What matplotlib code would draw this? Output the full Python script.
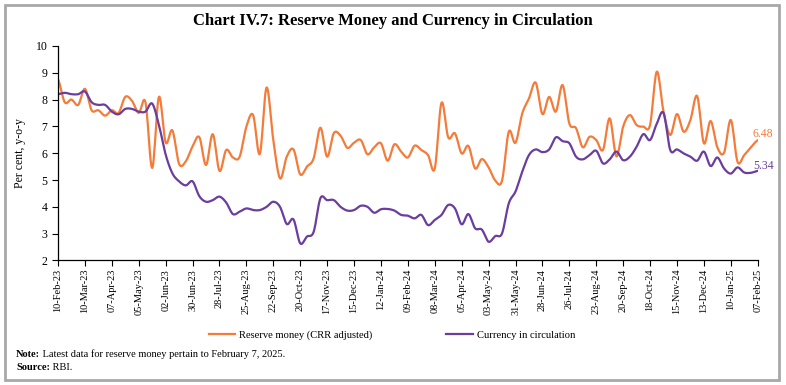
import numpy as np
import pandas as pd
import matplotlib.pyplot as plt
from matplotlib.patches import Rectangle

plt.rcParams['font.family'] = ['Liberation Serif', 'DejaVu Serif']

# weekly observations, 10-Feb-23 to 07-Feb-25
dates = pd.date_range('2023-02-10', periods=105, freq='7D')

reserve_money = [
    8.75, 7.90, 8.00, 7.80, 8.40, 7.60, 7.60, 7.40, 7.60, 7.50,
    8.10, 7.95, 7.50, 7.90, 5.45, 8.10, 6.40, 6.85, 5.60, 5.70,
    6.25, 6.60, 5.56, 6.71, 5.34, 6.12, 5.84, 5.87, 6.99, 7.42,
    5.97, 8.45, 6.49, 5.06, 5.87, 6.14, 5.21, 5.50, 5.81, 6.95,
    5.87, 6.75, 6.65, 6.20, 6.39, 6.49, 5.96, 6.22, 6.37, 5.72,
    6.33, 6.06, 5.84, 6.28, 6.12, 5.93, 5.43, 7.88, 6.59, 6.74,
    5.99, 6.27, 5.43, 5.78, 5.47, 4.98, 4.98, 6.80, 6.39, 7.48,
    8.04, 8.63, 7.46, 8.10, 7.55, 8.54, 7.11, 6.93, 6.22, 6.61,
    6.49, 6.12, 7.30, 5.88, 6.99, 7.42, 7.05, 6.99, 7.05, 9.04,
    7.55, 6.68, 7.46, 6.80, 7.24, 8.13, 6.37, 7.20, 6.22, 6.02,
    7.24, 5.68, 5.93, 6.22, 6.48,
]

currency = [
    8.20, 8.25, 8.20, 8.20, 8.30, 7.90, 7.80, 7.80, 7.55, 7.45,
    7.65, 7.65, 7.55, 7.55, 7.85, 7.05, 5.95, 5.25, 4.95, 4.80,
    4.95, 4.40, 4.19, 4.25, 4.38, 4.16, 3.73, 3.82, 3.94, 3.88,
    3.88, 4.00, 4.19, 4.00, 3.36, 3.53, 2.64, 2.89, 3.07, 4.32,
    4.25, 4.25, 4.00, 3.86, 3.88, 4.04, 4.00, 3.78, 3.91, 3.92,
    3.86, 3.70, 3.67, 3.57, 3.70, 3.32, 3.51, 3.70, 4.07, 3.94,
    3.35, 3.73, 3.20, 3.15, 2.70, 2.91, 3.01, 4.13, 4.57, 5.31,
    5.93, 6.14, 6.04, 6.14, 6.59, 6.45, 6.37, 5.87, 5.77, 5.93,
    6.09, 5.62, 5.77, 6.06, 5.74, 5.87, 6.24, 6.71, 6.49, 7.10,
    7.50, 6.12, 6.14, 5.99, 5.87, 5.72, 6.06, 5.52, 5.84, 5.43,
    5.24, 5.47, 5.28, 5.27, 5.34,
]

orange = '#F47B3A'
purple = '#6A3D9E'


def smooth(y, n=12):
    # Catmull-Rom curve through the points, like a smoothed line in a spreadsheet
    y = np.asarray(y, float)
    p = np.concatenate([[y[0]], y, [y[-1]]])
    xs, ys = [], []
    t = np.linspace(0, 1, n, endpoint=False)
    for i in range(len(y) - 1):
        p0, p1, p2, p3 = p[i], p[i + 1], p[i + 2], p[i + 3]
        seg = 0.5 * ((2 * p1) + (-p0 + p2) * t + (2 * p0 - 5 * p1 + 4 * p2 - p3) * t ** 2
                     + (-p0 + 3 * p1 - 3 * p2 + p3) * t ** 3)
        xs.append(i + t)
        ys.append(seg)
    xs.append([len(y) - 1])
    ys.append([y[-1]])
    return np.concatenate(xs), np.concatenate(ys)


fig = plt.figure(figsize=(7.86, 3.85), dpi=100)
ax = fig.add_axes([0.0738, 0.3234, 0.8902, 0.5574])

x1, y1 = smooth(reserve_money)
x2, y2 = smooth(currency)
ax.plot(x1, y1, color=orange, lw=1.6, label='Reserve money (CRR adjusted)')
ax.plot(x2, y2, color=purple, lw=1.6, label='Currency in circulation')

n = len(dates)
ax.text(n - 1.7, reserve_money[-1] + 0.24, f'{reserve_money[-1]:.2f}', color=orange,
        fontsize=8.5, va='center', ha='left', clip_on=False)
ax.text(n - 1.6, currency[-1] + 0.19, f'{currency[-1]:.2f}', color=purple,
        fontsize=8.5, va='center', ha='left', clip_on=False)

ax.set_xlim(0, n - 1)
ax.set_ylim(2, 10)
ax.set_yticks(range(2, 11))
ticks = list(range(0, n, 4))
ax.set_xticks(ticks)
ax.set_xticklabels([dates[i].strftime('%d-%b-%y') for i in ticks], rotation=90, fontsize=7.5)
ax.tick_params(axis='y', labelsize=8.5, length=4, width=0.8)
ax.tick_params(axis='x', length=4, width=0.8, pad=2)
for s in ['top', 'right']:
    ax.spines[s].set_visible(False)
for s in ['left', 'bottom']:
    ax.spines[s].set_linewidth(0.9)
ax.set_ylabel('Per cent, y-o-y', fontsize=8.5, labelpad=7)

fig.legend(loc='center', bbox_to_anchor=(0.4987, 0.13), ncol=2, frameon=False,
           fontsize=7.6, handlelength=2.5, columnspacing=7, handletextpad=0.4)

fig.text(0.5, 0.945, 'Chart IV.7: Reserve Money and Currency in Circulation',
         ha='center', va='center', fontsize=12, fontweight='bold')

# bold lead-in, then the plain text right after it
note = fig.text(0.0204, 0.072, 'Note:', fontsize=7.5, va='baseline', fontweight='bold')
src = fig.text(0.0204, 0.038, 'Source:', fontsize=7.5, va='baseline', fontweight='bold')
fig.canvas.draw()
r = fig.canvas.get_renderer()
for lab, txt in [(note, ' Latest data for reserve money pertain to February 7, 2025.'),
                 (src, ' RBI.')]:
    bb = lab.get_window_extent(r).transformed(fig.transFigure.inverted())
    fig.text(bb.x1, lab.get_position()[1], txt, fontsize=7.5, va='baseline')

fig.patches.append(Rectangle((0.006, 0.012), 0.985, 0.975, transform=fig.transFigure,
                             fill=False, edgecolor='#A8A8A8', lw=2))

fig.savefig('out.png', dpi=100)
